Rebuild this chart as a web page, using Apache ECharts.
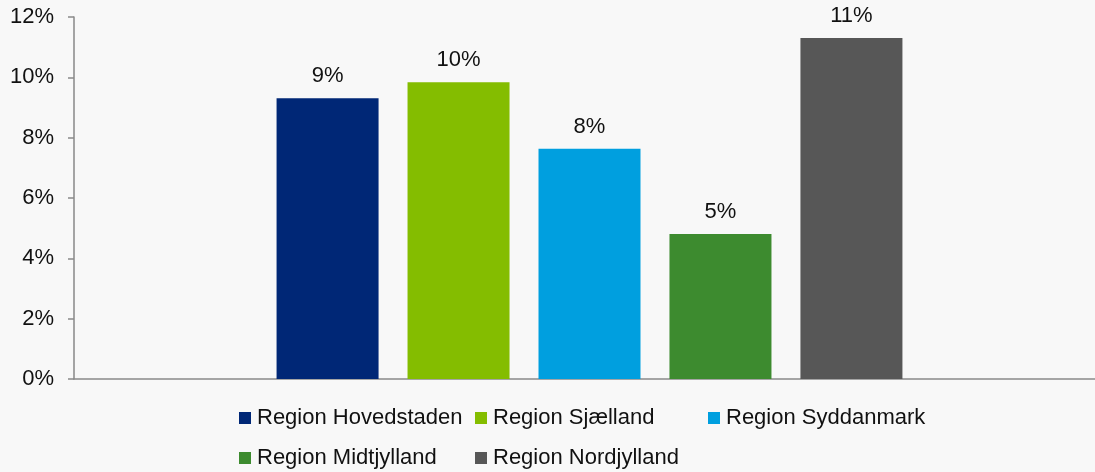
<!DOCTYPE html>
<html>
<head>
<meta charset="utf-8">
<script src="https://cdn.jsdelivr.net/npm/echarts@6/dist/echarts.min.js"></script>
<style>
html,body{margin:0;padding:0;background:#f8f8f8;overflow:hidden;}
#c{width:1105px;height:472px;}
</style>
</head>
<body>
<div id="c"></div>
<script>
const regions = ['Region Hovedstaden','Region Sjælland','Region Syddanmark','Region Midtjylland','Region Nordjylland'];
const values = [9.31, 9.84, 7.63, 4.81, 11.30];
const colors = ['#002776','#84bd00','#009fdf','#3d8b2f','#575757'];
const yTicks = [0, 2, 4, 6, 8, 10, 12];

const font = '"Liberation Sans", Arial, sans-serif';
const legendPos = [
  {left: 239, top: 407},
  {left: 475, top: 407},
  {left: 708, top: 407},
  {left: 239, top: 447},
  {left: 475, top: 447}
];

const chart = echarts.init(document.getElementById('c'), null, {renderer:'canvas'});
chart.setOption({
  backgroundColor: '#f8f8f8',
  animation: false,
  grid: {left: 74, right: 0, top: 17, bottom: 93, containLabel: false},
  xAxis: {
    type: 'category',
    data: [''],
    axisLine: {lineStyle: {color: '#898989', width: 1.5}},
    axisTick: {show: false},
    axisLabel: {show: false}
  },
  yAxis: {
    type: 'value',
    min: yTicks[0],
    max: yTicks[yTicks.length-1],
    interval: 2,
    splitLine: {show: false},
    axisLine: {show: true, lineStyle: {color: '#898989', width: 1.5}},
    axisTick: {show: true, length: 6, lineStyle: {color: '#898989', width: 1.5}},
    axisLabel: {formatter: '{value}%', fontFamily: font, fontSize: 22, color: '#111', margin: 20}
  },
  legend: regions.map((r, i) => ({
    data: [r],
    left: legendPos[i].left,
    top: legendPos[i].top,
    padding: 0,
    itemWidth: 12,
    itemHeight: 12,
    icon: 'rect',
    itemStyle: {borderWidth: 0},
    textStyle: {fontFamily: font, fontSize: 22, color: '#111', padding: [0,0,0,1]},
    selectedMode: false
  })),
  series: regions.map((r, i) => ({
    name: r,
    type: 'bar',
    data: [values[i]],
    barWidth: 102,
    barGap: '28.4%',
    itemStyle: {color: colors[i]},
    label: {
      show: true,
      position: 'top',
      distance: 11,
      fontFamily: font,
      fontSize: 22,
      color: '#111',
      formatter: p => Math.round(p.value) + '%'
    }
  }))
});
</script>
</body>
</html>
